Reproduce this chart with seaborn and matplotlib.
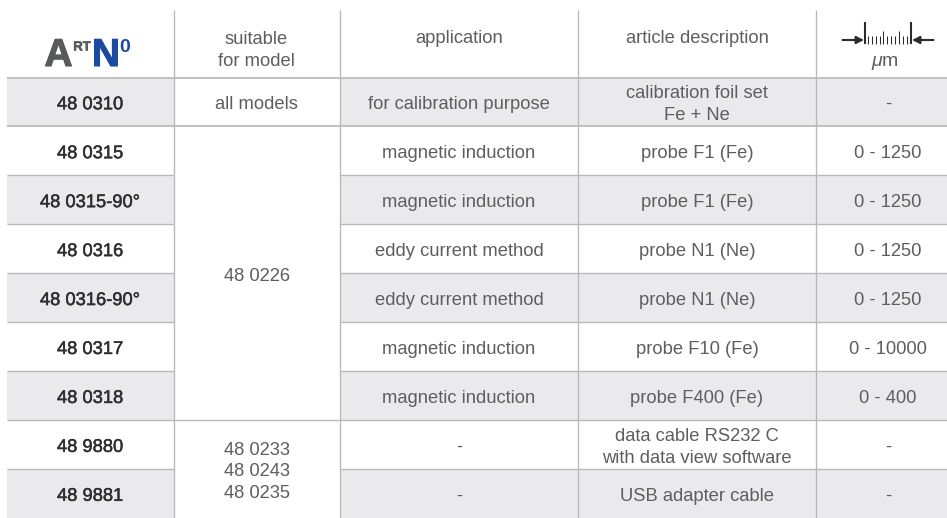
import numpy as np
import matplotlib
matplotlib.use("Agg")
import matplotlib.pyplot as plt
from matplotlib.colors import ListedColormap
import matplotlib.patheffects as pe
import seaborn as sns

# table content
headers = ["suitable\nfor model", "application", "article description"]
art_no = ["48 0310", "48 0315", "48 0315-90°", "48 0316", "48 0316-90°",
          "48 0317", "48 0318", "48 9880", "48 9881"]
application = ["for calibration purpose", "magnetic induction", "magnetic induction",
               "eddy current method", "eddy current method", "magnetic induction",
               "magnetic induction", "-", "-"]
article = ["calibration foil set\nFe + Ne", "probe F1 (Fe)", "probe F1 (Fe)",
           "probe N1 (Ne)", "probe N1 (Ne)", "probe F10 (Fe)", "probe F400 (Fe)",
           "data cable RS232 C\nwith data view software", "USB adapter cable"]
microns = ["-", "0 - 1250", "0 - 1250", "0 - 1250", "0 - 1250",
           "0 - 10000", "0 - 400", "-", "-"]
models = ["all models", "48 0226", "48 0233\n48 0243\n48 0235"]
model_spans = [(0, 1), (1, 7), (7, 9)]

W, H = 947, 518
col_x = [7, 173.5, 340, 578, 816, 947]
head_y = 77.5
row_h = (518 - head_y) / 9
line_c = "#b8b8ba"
text_c = "#5e5e60"
dark_c = "#2f2f31"
shade_c = "#eaeaec"

sns.set_theme(style="white")
plt.rcParams["font.family"] = ["Liberation Sans", "DejaVu Sans"]

fig = plt.figure(figsize=(W / 100, H / 100), dpi=100)

# row shading, one heatmap per column because the widths differ
stripes = (np.arange(len(art_no)) % 2 == 0).astype(int).reshape(-1, 1)
for c in [0, 2, 3, 4]:
    cax = fig.add_axes([col_x[c] / W, 0, (col_x[c + 1] - col_x[c]) / W, (H - head_y) / H])
    sns.heatmap(stripes, cmap=ListedColormap(["white", shade_c]), vmin=0, vmax=1,
                cbar=False, xticklabels=False, yticklabels=False, ax=cax)

# overlay in pixel coordinates for rules and text
ax = fig.add_axes([0, 0, 1, 1], facecolor="none")
ax.set_xlim(0, W)
ax.set_ylim(H, 0)
ax.axis("off")

for i in range(9):
    y = head_y + i * row_h
    lw = 1.2 if i < 2 else 0.95
    if i in (0, 1, 7):
        ax.hlines(y, col_x[0], W, color=line_c, lw=lw)
    else:
        ax.hlines(y, col_x[0], col_x[1], color=line_c, lw=lw)
        ax.hlines(y, col_x[2], W, color=line_c, lw=lw)
ax.vlines(col_x[1:5], 10, H, color=line_c, lw=0.95)

fs = 13.2
centers = [90, 256.5, 459, 697, 888]
stroke = [pe.withStroke(linewidth=0.35, foreground=dark_c)]
nudge = 2.8


def put(x, y, s, **kw):
    kw.setdefault("color", text_c)
    kw.setdefault("fontsize", fs)
    return ax.text(x, y + nudge, s, ha="center", va="center", linespacing=1.36, **kw)


for i in range(len(art_no)):
    y = head_y + (i + 0.5) * row_h
    put(centers[0], y, art_no[i], color=dark_c, path_effects=stroke)
    put(centers[2], y, application[i])
    put(centers[3], y, article[i])
    put(centers[4], y, microns[i])

for s, (a, b) in zip(models, model_spans):
    put(centers[1], head_y + (a + b) / 2 * row_h, s)

put(centers[1], 47.5, headers[0])
put(centers[2], 36, headers[1])
put(centers[3], 36, headers[2])

# logo
grey, blue = "#58595b", "#1b4a9f"
heavy = lambda c, w: [pe.withStroke(linewidth=w, foreground=c)]
ax.text(58.5, 66, "A", ha="center", va="baseline", fontsize=28, weight="bold", color=grey,
        path_effects=heavy(grey, 0.8))
ax.text(82, 50.5, "RT", ha="center", va="baseline", fontsize=9.5, weight="bold", color=grey,
        path_effects=heavy(grey, 0.4))
ax.text(106, 66, "N", ha="center", va="baseline", fontsize=28, weight="bold", color=blue,
        path_effects=heavy(blue, 0.8))
ax.text(125, 51.5, "0", ha="center", va="baseline", fontsize=14, weight="bold", color=blue)

# ruler icon of the thickness column
ink = "#2b2b2b"
ax.vlines([864.7, 911], 22, 43.7, color=ink, lw=1.5)
ticks = np.arange(868, 909, 3.85)
ax.vlines(ticks, [31 if k in (4, 8) else 35.5 for k in range(len(ticks))], 43.7, color=ink, lw=0.75)
for start, end in [(842.5, 864), (933.5, 912)]:
    ax.annotate("", xy=(end, 40), xytext=(start, 40),
                arrowprops=dict(arrowstyle="-|>", color=ink, lw=1.5, mutation_scale=11,
                                shrinkA=0, shrinkB=0))
ax.text(882, 62, "μ", ha="right", va="center", fontsize=14, style="italic", color=text_c)
ax.text(882, 62, "m", ha="left", va="center", fontsize=14, color=text_c)

fig.savefig("out.png", dpi=100)
